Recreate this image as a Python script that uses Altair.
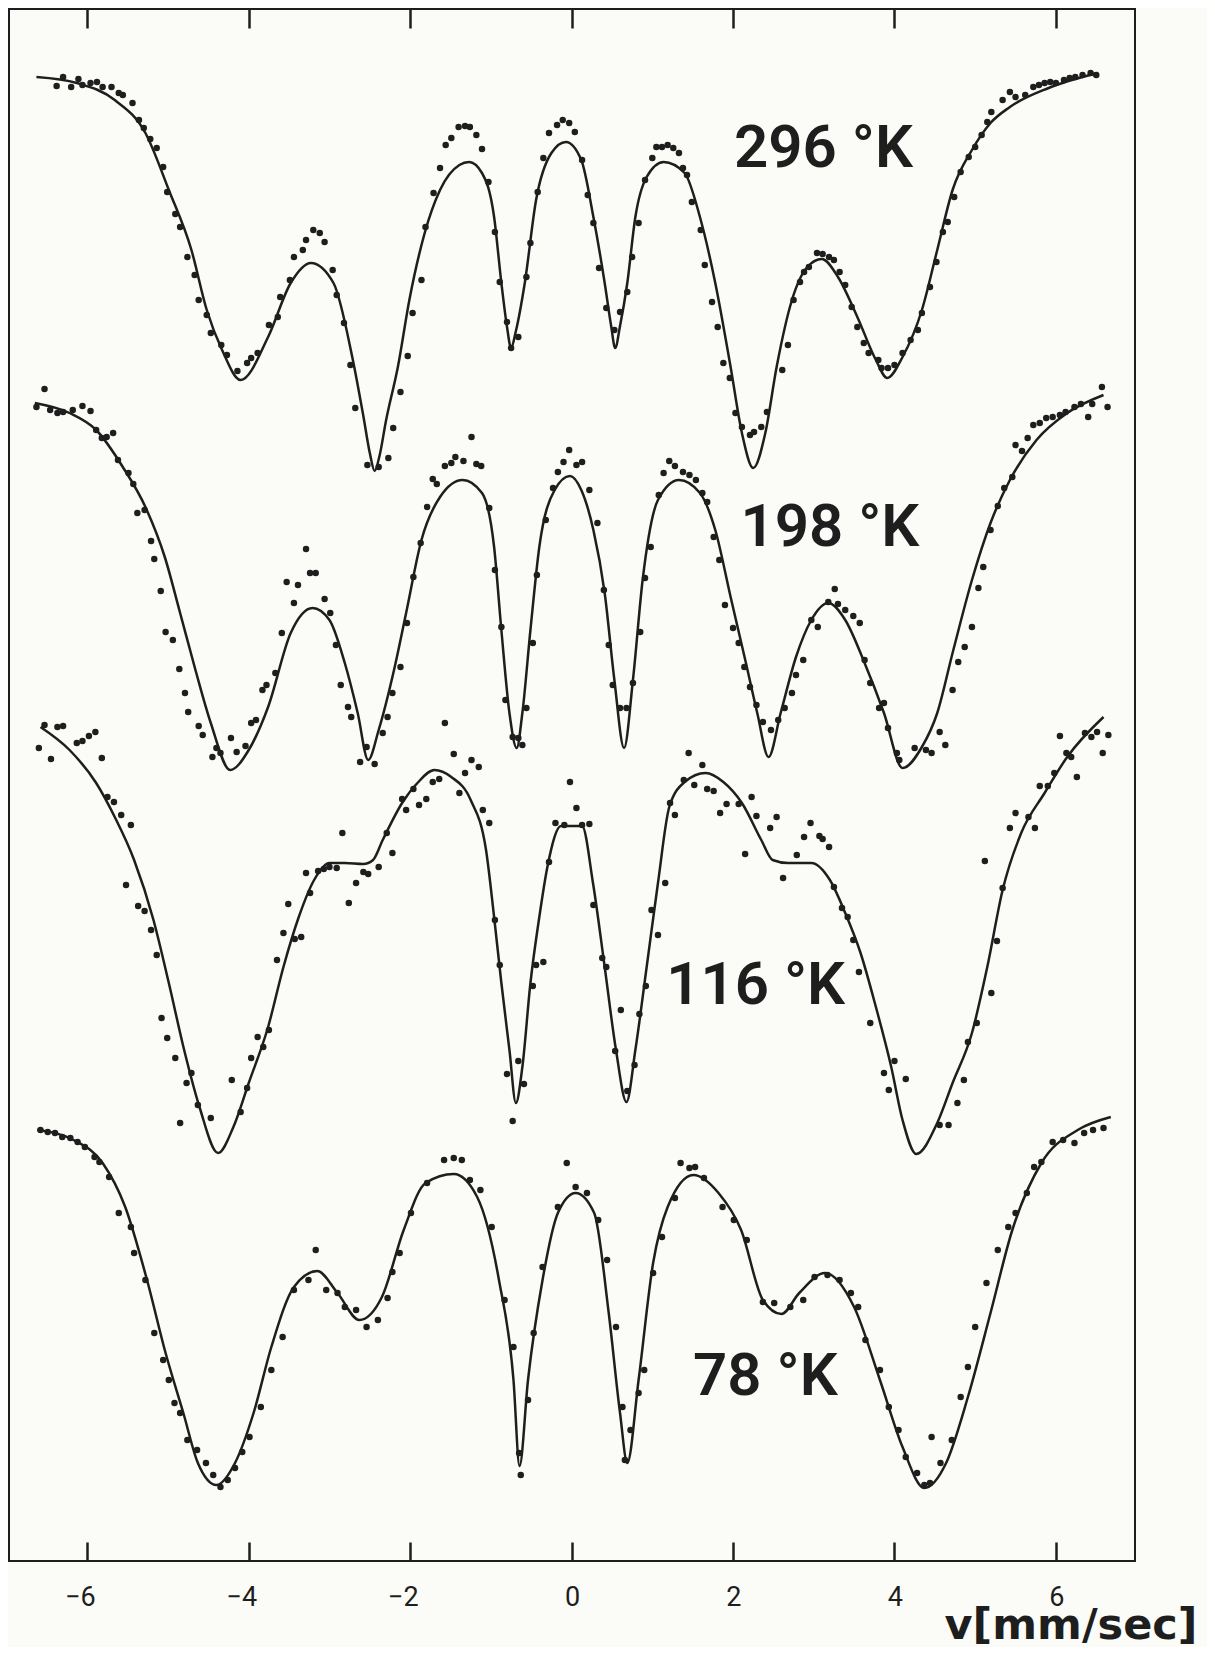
import altair as alt
import pandas as pd

INK = "#1e1e1e"
PAPER = "#fbfbf7"

X_DOMAIN = [-6.97, 6.98]
Y_DOMAIN = [0, 155.2]
TICK_VALUES = [-6, -4, -2, 0, 2, 4, 6]

TEMPS = ["296 °K", "198 °K", "116 °K", "78 °K"]
LABEL_V = [3.12, 3.20, 2.28, 2.40]
LABEL_Y = [141.2, 103.3, 57.5, 18.4]

# fitted curves (v [mm/s], relative transmission, offset per temperature)
CURVE_296 = [(-6.63,148.4),(-6.13,147.8),(-5.66,146.1),(-5.28,142.8),(-4.99,137.1),(-4.71,131.1),(-4.52,125.1),(-4.33,121.1),(-4.10,118.1),(-3.76,122.4),(-3.48,127.8),(-3.23,129.8),(-2.95,127.8),(-2.72,120.5),(-2.58,114.5),(-2.50,110.8),(-2.44,109.0),(-2.38,110.5),(-2.30,114.0),(-2.15,119.5),(-2.01,126.1),(-1.82,132.8),(-1.63,137.1),(-1.39,139.6),(-1.27,139.9),(-1.11,138.8),(-0.96,134.4),(-0.87,127.8),(-0.80,123.4),(-0.75,121.3),(-0.69,123.0),(-0.58,127.8),(-0.44,136.1),(-0.25,140.8),(-0.07,141.9),(0.12,140.1),(0.27,134.4),(0.41,127.8),(0.49,123.5),(0.54,121.3),(0.60,123.5),(0.69,127.8),(0.79,134.4),(0.93,138.4),(1.14,139.9),(1.40,138.8),(1.59,134.4),(1.78,127.8),(1.97,119.4),(2.11,112.8),(2.25,109.3),(2.40,112.8),(2.54,119.4),(2.73,126.1),(2.92,129.4),(3.10,130.2),(3.30,128.4),(3.54,124.4),(3.77,120.1),(3.91,118.3),(4.10,120.4),(4.34,125.1),(4.53,131.1),(4.72,137.1),(4.96,141.1),(5.19,143.8),(5.43,145.4),(5.91,147.3),(6.52,148.8)]
CURVE_198 = [(-6.65,115.8),(-6.22,114.8),(-5.89,113.1),(-5.56,109.4),(-5.28,105.4),(-5.04,100.4),(-4.85,94.8),(-4.66,89.1),(-4.47,83.8),(-4.23,79.1),(-4.00,81.1),(-3.76,85.4),(-3.48,92.8),(-3.21,95.3),(-3.00,94.1),(-2.81,89.8),(-2.65,84.8),(-2.52,80.1),(-2.39,83.1),(-2.20,89.1),(-2.05,94.8),(-1.86,102.1),(-1.63,106.4),(-1.35,108.1),(-1.11,106.8),(-0.96,101.4),(-0.87,93.1),(-0.77,84.8),(-0.68,81.3),(-0.61,84.8),(-0.51,93.1),(-0.40,101.4),(-0.21,107.1),(-0.02,108.5),(0.12,107.1),(0.27,103.1),(0.41,96.8),(0.53,88.1),(0.65,81.3),(0.76,88.1),(0.88,98.1),(1.07,106.1),(1.33,108.1),(1.59,106.8),(1.78,103.1),(1.97,96.4),(2.16,89.8),(2.30,84.8),(2.44,80.4),(2.59,84.8),(2.78,90.4),(2.97,94.1),(3.18,95.8),(3.39,94.1),(3.63,89.8),(3.87,84.8),(4.10,79.3),(4.34,81.4),(4.53,84.8),(4.72,90.8),(4.96,98.1),(5.19,103.8),(5.43,108.1),(5.76,112.1),(6.14,114.8),(6.59,116.6)]
CURVE_116 = [(-6.58,83.4),(-6.22,81.1),(-5.89,77.8),(-5.66,74.4),(-5.42,70.1),(-5.18,64.1),(-4.99,57.8),(-4.80,51.1),(-4.61,45.4),(-4.38,40.8),(-4.19,43.4),(-4.00,47.8),(-3.76,53.4),(-3.57,59.4),(-3.38,64.4),(-3.19,68.1),(-3.00,69.8),(-2.81,69.8),(-2.58,69.7),(-2.46,70.1),(-2.34,72.1),(-2.10,75.8),(-1.91,77.8),(-1.70,79.1),(-1.49,78.4),(-1.25,76.1),(-1.06,71.1),(-0.96,64.4),(-0.87,57.8),(-0.77,51.1),(-0.69,45.8),(-0.61,49.4),(-0.51,57.8),(-0.40,64.4),(-0.30,69.4),(-0.13,73.5),(0.13,73.5),(0.265,67.8),(0.41,59.4),(0.55,51.1),(0.68,45.9),(0.79,51.1),(0.93,59.4),(1.07,67.8),(1.21,75.4),(1.40,77.9),(1.66,78.8),(1.88,77.9),(2.11,75.8),(2.35,72.1),(2.49,70.1),(2.68,69.8),(2.97,69.8),(3.20,68.1),(3.39,64.8),(3.58,60.8),(3.77,55.4),(3.96,49.4),(4.10,44.1),(4.27,40.7),(4.53,43.8),(4.72,47.8),(4.96,52.8),(5.15,59.4),(5.34,67.1),(5.57,72.8),(5.86,76.8),(6.14,80.4),(6.59,84.4)]
CURVE_78 = [(-6.62,43.1),(-6.17,42.1),(-5.81,39.8),(-5.53,35.4),(-5.26,28.1),(-5.03,20.8),(-4.81,14.8),(-4.63,9.8),(-4.40,7.6),(-4.17,9.8),(-3.94,14.8),(-3.72,21.4),(-3.44,27.4),(-3.15,29.0),(-2.90,26.8),(-2.63,24.1),(-2.35,26.4),(-2.08,33.1),(-1.81,37.8),(-1.46,38.7),(-1.17,36.4),(-0.90,28.1),(-0.72,18.1),(-0.645,9.5),(-0.54,18.1),(-0.36,28.1),(-0.17,34.8),(0.05,36.8),(0.28,34.8),(0.46,24.8),(0.60,14.8),(0.69,9.8),(0.83,18.1),(1.01,29.8),(1.19,35.4),(1.51,38.6),(1.82,36.8),(2.10,33.1),(2.37,26.1),(2.60,24.7),(2.82,26.8),(3.14,28.8),(3.50,25.4),(3.82,18.1),(4.10,11.4),(4.37,7.3),(4.64,9.8),(4.91,16.4),(5.19,24.8),(5.46,33.1),(5.82,39.8),(6.27,43.1),(6.68,44.4)]

# measured points
POINTS_296 = [(-6.38,147.5),(-6.30,148.4),(-6.20,147.4),(-6.11,148.2),(-6.06,147.6),(-5.96,147.8),(-5.88,147.9),(-5.81,147.4),(-5.70,147.4),(-5.61,146.8),(-5.56,146.6),(-5.44,145.8),(-5.36,144.1),(-5.30,143.3),(-5.22,142.2),(-5.14,141.3),(-5.06,139.4),(-5.01,136.9),(-4.91,134.7),(-4.85,133.4),(-4.76,130.4),(-4.67,128.6),(-4.62,126.1),(-4.52,124.6),(-4.47,122.8),(-4.34,121.6),(-4.27,120.6),(-4.14,119.0),(-4.02,119.8),(-3.97,120.3),(-3.89,120.8),(-3.75,123.6),(-3.64,124.4),(-3.61,126.4),(-3.49,128.1),(-3.44,130.4),(-3.33,131.1),(-3.29,132.1),(-3.20,133.1),(-3.12,132.8),(-3.06,131.9),(-2.96,129.1),(-2.91,126.6),(-2.82,123.8),(-2.74,119.6),(-2.68,115.3),(-2.53,109.6),(-2.39,109.4),(-2.27,110.3),(-2.21,113.3),(-2.12,116.9),(-2.03,120.5),(-1.97,124.8),(-1.86,128.1),(-1.81,133.4),(-1.71,136.8),(-1.63,139.3),(-1.56,141.6),(-1.49,142.3),(-1.40,143.4),(-1.32,143.5),(-1.26,143.4),(-1.18,142.6),(-1.11,141.2),(-1.03,137.9),(-0.95,132.9),(-0.89,127.9),(-0.80,123.9),(-0.75,121.3),(-0.66,122.4),(-0.56,128.4),(-0.51,131.8),(-0.42,136.9),(-0.35,140.3),(-0.28,142.8),(-0.18,143.6),(-0.11,144.1),(-0.03,143.8),(0.04,142.9),(0.13,140.1),(0.20,136.6),(0.27,133.8),(0.34,129.3),(0.43,125.3),(0.53,123.1),(0.60,124.9),(0.69,126.9),(0.75,130.4),(0.83,133.8),(0.91,138.1),(1.00,140.3),(1.05,141.4),(1.12,141.4),(1.19,141.6),(1.26,141.3),(1.33,140.8),(1.38,139.3),(1.43,138.6),(1.49,135.9),(1.60,133.1),(1.65,129.6),(1.74,125.9),(1.81,123.4),(1.88,119.8),(1.96,118.3),(2.03,114.8),(2.11,113.4),(2.21,112.6),(2.26,112.9),(2.35,113.4),(2.42,114.9),(2.61,119.1),(2.68,121.6),(2.75,126.1),(2.83,127.9),(2.88,128.9),(2.94,129.4),(3.04,130.8),(3.11,130.7),(3.19,130.4),(3.25,130.1),(3.32,128.9),(3.39,127.6),(3.47,125.4),(3.54,123.4),(3.62,121.8),(3.68,120.8),(3.80,120.1),(3.84,119.3),(3.92,119.3),(4.00,119.6),(4.10,120.8),(4.20,122.1),(4.29,123.1),(4.34,124.8),(4.44,127.4),(4.52,129.9),(4.60,132.9),(4.66,133.9),(4.74,136.4),(4.82,138.9),(4.92,140.4),(5.00,141.4),(5.08,142.6),(5.15,143.9),(5.20,144.9),(5.34,146.1),(5.43,146.9),(5.50,146.4),(5.62,146.6),(5.72,147.4),(5.79,147.6),(5.86,147.8),(5.93,147.9),(6.00,147.8),(6.10,148.1),(6.17,148.3),(6.24,148.4),(6.33,148.6),(6.43,148.8),(6.50,148.6)]
POINTS_198 = [(-6.63,115.4),(-6.53,117.2),(-6.46,115.1),(-6.37,114.8),(-6.30,114.9),(-6.18,115.1),(-6.06,115.5),(-5.96,115.0),(-5.89,113.1),(-5.82,112.3),(-5.76,112.4),(-5.68,112.8),(-5.62,110.1),(-5.49,108.8),(-5.43,107.7),(-5.38,104.8),(-5.29,105.1),(-5.21,102.0),(-5.17,100.2),(-5.09,97.0),(-5.03,92.9),(-4.94,92.1),(-4.86,89.2),(-4.79,86.8),(-4.75,84.9),(-4.62,83.5),(-4.57,82.6),(-4.45,80.4),(-4.40,81.3),(-4.35,80.8),(-4.22,82.3),(-4.15,80.9),(-4.04,81.5),(-3.97,83.8),(-3.91,84.1),(-3.83,87.1),(-3.78,87.6),(-3.67,88.8),(-3.59,92.8),(-3.53,97.9),(-3.44,95.8),(-3.39,97.6),(-3.29,101.2),(-3.24,98.8),(-3.17,98.8),(-3.06,96.2),(-2.99,94.8),(-2.92,91.6),(-2.86,87.6),(-2.77,85.4),(-2.73,84.4),(-2.62,79.9),(-2.54,81.4),(-2.44,79.7),(-2.34,82.8),(-2.28,84.4),(-2.22,86.8),(-2.12,89.4),(-2.04,93.8),(-1.96,98.4),(-1.87,101.8),(-1.79,105.4),(-1.72,108.2),(-1.67,107.7),(-1.57,109.5),(-1.49,109.8),(-1.44,110.4),(-1.34,110.0),(-1.24,112.4),(-1.18,109.7),(-1.12,109.5),(-1.02,105.3),(-0.95,99.1),(-0.87,93.4),(-0.82,86.1),(-0.73,82.4),(-0.66,82.3),(-0.61,81.6),(-0.56,85.3),(-0.48,91.8),(-0.43,98.6),(-0.32,104.1),(-0.23,107.3),(-0.17,108.9),(-0.10,109.9),(-0.03,111.1),(0.06,109.6),(0.13,109.9),(0.22,107.1),(0.32,103.8),(0.40,97.1),(0.46,91.6),(0.51,87.6),(0.60,85.3),(0.68,85.3),(0.76,87.8),(0.85,92.9),(0.91,98.3),(0.98,101.4),(1.08,106.6),(1.14,108.8),(1.21,110.0),(1.28,109.5),(1.38,108.9),(1.46,108.6),(1.54,108.1),(1.62,106.8),(1.68,105.9),(1.76,102.4),(1.83,100.1),(1.90,95.6),(2.00,93.3),(2.07,91.8),(2.14,89.4),(2.21,87.4),(2.29,85.6),(2.37,83.9),(2.47,83.1),(2.56,84.1),(2.64,85.3),(2.73,86.8),(2.78,88.6),(2.87,90.1),(2.97,94.1),(3.05,93.4),(3.18,95.9),(3.26,97.2),(3.30,95.7),(3.39,95.1),(3.49,94.5),(3.57,93.8),(3.63,90.1),(3.70,87.8),(3.81,85.3),(3.87,85.8),(3.92,83.3),(4.03,80.8),(4.06,80.1),(4.25,81.3),(4.39,81.1),(4.46,80.8),(4.56,82.9),(4.63,81.6),(4.72,87.1),(4.79,89.9),(4.87,91.4),(4.96,93.4),(5.04,97.3),(5.10,99.4),(5.19,103.1),(5.28,105.5),(5.36,107.3),(5.46,108.4),(5.50,111.6),(5.58,111.0),(5.65,112.3),(5.72,113.6),(5.80,113.8),(5.88,114.3),(5.96,114.4),(6.05,114.6),(6.12,114.9),(6.23,115.4),(6.31,115.7),(6.40,114.4),(6.45,115.7),(6.57,117.4),(6.64,115.4)]
POINTS_116 = [(-6.60,81.3),(-6.53,83.6),(-6.45,80.2),(-6.37,83.4),(-6.30,83.5),(-6.13,81.8),(-6.06,82.0),(-5.98,82.5),(-5.90,82.9),(-5.82,80.3),(-5.75,76.4),(-5.67,75.9),(-5.58,74.6),(-5.46,73.6),(-5.52,67.6),(-5.37,65.5),(-5.29,65.0),(-5.21,63.1),(-5.14,60.6),(-5.08,54.3),(-5.01,52.3),(-4.91,50.3),(-4.77,47.8),(-4.71,48.8),(-4.63,45.6),(-4.47,44.3),(-4.85,43.8),(-4.21,48.1),(-4.10,44.9),(-4.02,47.3),(-3.97,50.3),(-3.89,52.4),(-3.82,51.4),(-3.75,53.1),(-3.65,60.1),(-3.57,62.8),(-3.43,62.2),(-3.35,62.4),(-3.51,65.7),(-3.29,68.8),(-3.24,66.8),(-3.14,69.0),(-3.07,69.2),(-3.00,69.4),(-2.91,69.3),(-2.84,72.8),(-2.76,65.8),(-2.67,67.8),(-2.58,68.9),(-2.52,68.7),(-2.39,69.4),(-2.29,72.8),(-2.22,70.8),(-2.10,76.2),(-2.05,75.1),(-1.96,77.2),(-1.89,75.6),(-1.80,76.2),(-1.72,77.9),(-1.64,78.2),(-1.57,83.8),(-1.46,80.7),(-1.39,76.8),(-1.32,78.8),(-1.24,80.1),(-1.15,79.4),(-1.10,75.1),(-1.02,73.8),(-0.95,64.1),(-0.89,59.6),(-0.80,48.7),(-0.73,44.0),(-0.66,50.0),(-0.59,47.7),(-0.48,57.5),(-0.44,59.6),(-0.35,59.9),(-0.28,69.9),(-0.20,73.8),(-0.09,73.6),(-0.02,77.9),(0.06,75.3),(0.13,73.6),(0.22,73.7),(0.27,65.6),(0.38,60.3),(0.43,59.4),(0.54,51.0),(0.61,55.1),(0.69,47.0),(0.78,49.6),(0.84,54.7),(0.92,57.5),(0.99,65.1),(1.07,62.6),(1.16,67.8),(1.22,75.8),(1.28,74.6),(1.39,78.1),(1.45,80.8),(1.52,77.6),(1.62,79.6),(1.68,77.2),(1.76,77.0),(1.84,74.8),(1.92,75.7),(2.07,75.7),(2.15,70.7),(2.23,76.4),(2.29,74.5),(2.46,73.3),(2.54,74.4),(2.62,68.3),(2.79,70.6),(2.88,72.4),(2.96,73.8),(3.07,72.5),(3.11,72.2),(3.19,71.4),(3.25,67.4),(3.35,65.3),(3.42,64.4),(3.49,62.1),(3.56,58.9),(3.70,53.8),(3.87,48.8),(3.93,47.1),(4.00,50.0),(4.14,48.2),(4.56,43.6),(4.67,43.6),(4.78,45.8),(4.86,48.1),(4.91,51.9),(5.02,53.8),(5.12,70.0),(5.20,56.8),(5.27,62.0),(5.34,67.3),(5.43,73.3),(5.50,74.8),(5.66,74.4),(5.74,73.3),(5.80,77.5),(5.90,77.5),(5.98,78.8),(6.05,82.5),(6.13,80.8),(6.19,80.4),(6.26,78.4),(6.36,82.8),(6.44,82.4),(6.51,82.9),(6.58,80.8),(6.65,82.6)]
POINTS_78 = [(-6.58,43.1),(-6.49,42.9),(-6.40,42.8),(-6.31,42.4),(-6.21,42.3),(-6.12,41.9),(-6.03,41.4),(-5.91,40.4),(-5.85,39.9),(-5.73,38.4),(-5.61,34.8),(-5.46,33.4),(-5.42,30.8),(-5.28,28.1),(-5.17,22.8),(-5.06,20.1),(-4.99,18.1),(-4.92,15.8),(-4.85,14.8),(-4.76,12.1),(-4.64,11.1),(-4.53,9.8),(-4.44,8.6),(-4.35,7.4),(-4.26,8.1),(-4.17,9.3),(-4.08,10.9),(-3.99,12.4),(-3.85,15.4),(-3.72,19.1),(-3.58,22.4),(-3.44,27.1),(-3.26,28.1),(-3.17,31.1),(-3.04,27.1),(-2.90,26.8),(-2.81,25.4),(-2.67,25.1),(-2.54,23.4),(-2.40,24.1),(-2.28,26.3),(-2.22,28.9),(-2.13,30.8),(-1.99,34.8),(-1.79,37.8),(-1.58,40.1),(-1.46,40.3),(-1.36,40.1),(-1.26,38.1),(-1.13,37.1),(-0.99,33.4),(-0.83,26.1),(-0.72,21.4),(-0.65,10.8),(-0.63,8.6),(-0.54,16.1),(-0.47,22.8),(-0.36,29.4),(-0.17,35.4),(-0.06,39.8),(0.05,37.4),(0.19,36.8),(0.33,34.1),(0.44,30.1),(0.55,23.4),(0.63,15.4),(0.66,10.1),(0.73,13.1),(0.83,16.8),(0.90,19.1),(1.01,28.8),(1.12,32.4),(1.28,36.3),(1.35,39.8),(1.46,39.3),(1.53,39.4),(1.64,38.3),(1.87,35.4),(2.01,34.1),(2.17,32.1),(2.37,25.9),(2.51,25.8),(2.71,25.4),(2.87,26.1),(3.01,28.4),(3.17,28.6),(3.32,28.1),(3.46,26.8),(3.55,25.4),(3.64,22.1),(3.82,19.1),(3.93,15.4),(4.05,13.1),(4.14,10.4),(4.28,8.8),(4.37,7.6),(4.44,7.8),(4.46,12.4),(4.57,9.8),(4.71,12.1),(4.82,16.4),(4.91,19.4),(5.00,23.4),(5.14,27.8),(5.28,31.1),(5.41,33.4),(5.50,34.8),(5.64,36.8),(5.73,39.4),(5.82,39.9),(5.96,41.9),(6.09,42.1),(6.23,41.8),(6.35,42.8),(6.46,43.1),(6.59,43.3)]


def table(pairs, temp):
    return pd.DataFrame({"v": [p[0] for p in pairs], "y": [p[1] for p in pairs], "temp": temp})


curves = pd.concat([table(c, t) for c, t in zip([CURVE_296, CURVE_198, CURVE_116, CURVE_78], TEMPS)])
points = pd.concat([table(p, t) for p, t in zip([POINTS_296, POINTS_198, POINTS_116, POINTS_78], TEMPS)])
labels = pd.DataFrame({"v": LABEL_V, "y": LABEL_Y, "label": TEMPS})

PLOT_W, PLOT_H = 1126, 1552
TICK_LEN = 19

x_scale = alt.Scale(domain=X_DOMAIN, nice=False, zero=False)
y_scale = alt.Scale(domain=Y_DOMAIN, nice=False, zero=False)

# labels + title under the frame
label_axis = alt.Axis(
    values=TICK_VALUES, orient="bottom", domain=False, grid=False, ticks=False, tickSize=0,
    labelExpr="datum.value < 0 ? '\u2212' + abs(datum.value) : '' + datum.value",
    labelFont="Roboto", labelFontSize=27, labelColor=INK, labelAlign="right", labelOffset=8,
    labelBaseline="alphabetic", labelPadding=44, labelFlush=False, labelOverlap=False,
    title="v[mm/sec]", titleFont="DejaVu Sans", titleFontSize=43, titleFontWeight="bold",
    titleColor=INK, titleX=1188, titleY=77, titleAlign="right", titleBaseline="alphabetic",
)
# inward ticks hanging from the top edge
top_ticks = alt.Axis(
    values=TICK_VALUES, orient="top", offset=-TICK_LEN, domain=False, grid=False,
    ticks=True, tickSize=TICK_LEN, tickWidth=2.5, tickColor=INK, labels=False, title=None, zindex=1,
)
# inward ticks standing on the bottom edge (top-oriented axis moved down to the bottom edge)
bottom_ticks = alt.Axis(
    values=TICK_VALUES, orient="top", offset=-PLOT_H, domain=False, grid=False,
    ticks=True, tickSize=TICK_LEN, tickWidth=2.5, tickColor=INK, labels=False, title=None, zindex=1,
)

lines = alt.Chart(curves).mark_line(color=INK, strokeWidth=2.5, interpolate="monotone").encode(
    x=alt.X("v:Q", scale=x_scale, axis=label_axis),
    y=alt.Y("y:Q", scale=y_scale, axis=None),
    detail="temp:N",
)
dots = alt.Chart(points).mark_circle(color=INK, size=42, opacity=1).encode(
    x=alt.X("v:Q", scale=x_scale, axis=top_ticks),
    y=alt.Y("y:Q", scale=y_scale, axis=None),
)
temp_text = alt.Chart(labels).mark_text(
    font="Roboto", fontSize=60, fontWeight=600, color=INK, align="center", baseline="middle"
).encode(
    x=alt.X("v:Q", scale=x_scale, axis=bottom_ticks),
    y=alt.Y("y:Q", scale=y_scale, axis=None),
    text="label:N",
)

chart = alt.layer(lines, dots, temp_text).resolve_axis(x="independent").properties(
    width=PLOT_W, height=PLOT_H,
    autosize=alt.AutoSizeParams(type="none"),
    padding={"left": 1, "top": 1, "right": 72, "bottom": 86},
    background=PAPER,
).configure_view(stroke=INK, strokeWidth=2)

chart.save("out.html", embed_options={"renderer": "svg", "actions": False})
